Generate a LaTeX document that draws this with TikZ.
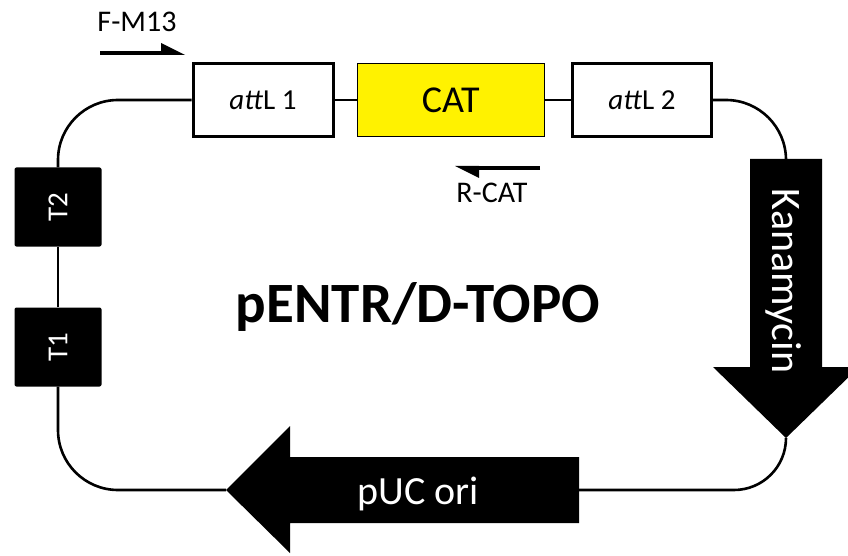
\documentclass[tikz,border=0pt]{standalone}
\usepackage{fontspec}
\setmainfont{Carlito}
\usetikzlibrary{arrows.meta, positioning}

\begin{document}
\begin{tikzpicture}[x=1pt, y=-1pt, line join=miter,
    gene/.style={draw, line width=3pt, fill=white, minimum height=73pt, inner sep=0pt, font=\fontsize{29}{29}\selectfont},
    term/.style={fill=black, text=white, rounded corners=2pt, minimum width=87pt, minimum height=79pt, font=\fontsize{29}{29}\selectfont},
    backbone/.style={line width=2.6pt, rounded corners=60pt},
    primer/.style={line width=4pt},
    lbl/.style={anchor=base, inner sep=0pt}]
    \useasboundingbox (0,0) rectangle (848,556);

    % cassette on the top strand
    \node[gene, minimum width=140pt] (attL1) at (263,100) {\textit{att}L 1};
    \node[gene, minimum width=187pt, fill=yellow, line width=1.5pt, font=\fontsize{38}{38}\selectfont] (CAT) [right=22pt of attL1] {CAT};
    \node[gene, minimum width=139pt] (attL2) [right=26pt of CAT] {\textit{att}L 2};

    % terminators
    \node[term] (T2) at (58,207) {\rotatebox{90}{T2}};
    \node[term] (T1) at (58,347) {\rotatebox{90}{T1}};

    % resistance gene and origin
    \coordinate (kantail) at (786,159);
    \coordinate (kantip) at (786,438);
    \coordinate (oritail) at (579,490);
    \coordinate (oritip) at (226,490);
    \fill (kantail) ++(-36,0) -- ++(72,0) -- ++(0,208) -- ++(37,0) -- (kantip) -- ++(-73,-71) -- ++(37,0) -- cycle;
    \fill (oritail) ++(0,-33) -- ++(0,66) -- ++(-289,0) -- ++(0,30) -- (oritip) -- ++(64,-64) -- ++(0,31) -- cycle;
    \node[lbl, white, rotate=-90, font=\fontsize{42}{42}\selectfont] (kan) at (772,281) {Kanamycin};
    \node[lbl, white, font=\fontsize{40}{40}\selectfont] (ori) at (418,504) {pUC ori};

    % plasmid backbone
    \draw[backbone] (T2.north) |- (attL1.west);
    \draw[backbone] (attL1.east) -- (CAT.west);
    \draw[backbone] (CAT.east) -- (attL2.west);
    \draw[backbone] (attL2.east) -| (kantail);
    \draw[backbone, rounded corners=52pt] (kantip) |- (oritail);
    \draw[backbone] (oritip) -| (T1.south);
    \draw[backbone] (T1.north) -- (T2.south);

    % primers (half arrow heads)
    \node[lbl, font=\fontsize{30}{30}\selectfont] (fm13) at (137,32) {F-M13};
    \coordinate (fm13a) at (100,53);
    \coordinate (fm13b) at (185,53);
    \draw[primer] (fm13a) -- ([xshift=-20pt]fm13b);
    \fill (fm13b) ++(0,2) -- ++(-24,0) -- ++(0,-12) -- cycle;
    \node[lbl, font=\fontsize{30}{30}\selectfont] (rcat) at (492,203) {R-CAT};
    \coordinate (rcata) at (540,168);
    \coordinate (rcatb) at (455,168);
    \draw[primer] (rcata) -- ([xshift=20pt]rcatb);
    \fill (rcatb) ++(0,-2) -- ++(24,0) -- ++(0,12) -- cycle;

    % title
    \node[lbl, font=\bfseries\fontsize{57}{57}\selectfont] (title) at (418,322) {pENTR/D-TOPO};
\end{tikzpicture}
\end{document}
